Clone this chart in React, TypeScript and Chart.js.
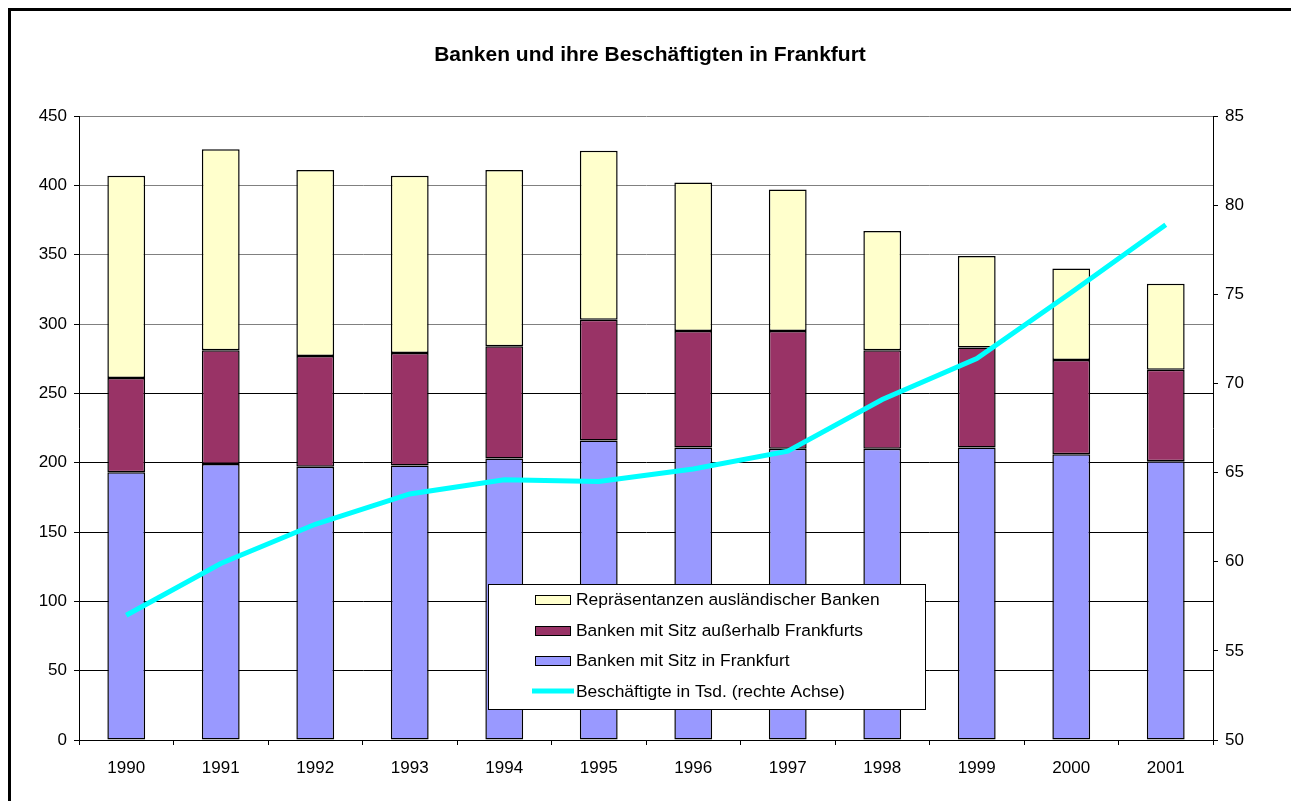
import React, { useEffect, useRef } from "react";
import { Chart, registerables } from "chart.js";

Chart.register(...registerables);

const TITLE = "Banken und ihre Beschäftigten in Frankfurt";
const YEARS = ["1990", "1991", "1992", "1993", "1994", "1995", "1996", "1997", "1998", "1999", "2000", "2001"];

const SITZ_FRANKFURT = [193, 199, 197, 198, 203, 216, 211, 210, 210, 211, 206, 201];
const SITZ_AUSSERHALB = [68, 82, 80, 81, 81, 87, 84, 85, 71, 72, 68, 66];
const REPRAESENTANZEN = [146, 145, 134, 128, 127, 122, 107, 102, 86, 66, 66, 62];
const BESCHAEFTIGTE = [57.0, 59.9, 62.1, 63.8, 64.6, 64.5, 65.2, 66.2, 69.1, 71.4, 75.1, 78.9];

const LABEL_FRANKFURT = "Banken mit Sitz in Frankfurt";
const LABEL_AUSSERHALB = "Banken mit Sitz außerhalb Frankfurts";
const LABEL_REPR = "Repräsentanzen ausländischer Banken";
const LABEL_BESCH = "Beschäftigte in Tsd. (rechte Achse)";

const C_BLUE = "#9999FF";
const C_MAROON = "#993366";
const C_YELLOW = "#FFFFCC";
const C_CYAN = "#00FFFF";
const FONT = '"Liberation Sans", Arial, sans-serif';

const legendPlugin = {
  id: "boxLegend",
  afterDraw(chart: any) {
    const ctx = chart.ctx as CanvasRenderingContext2D;
    const x0 = 488, y0 = 584, w = 437, h = 125;
    ctx.save();
    ctx.fillStyle = "#fff";
    ctx.fillRect(x0, y0, w, h);
    ctx.strokeStyle = "#000";
    ctx.lineWidth = 1;
    ctx.strokeRect(x0 + 0.5, y0 + 0.5, w, h);
    const items = [
      { label: LABEL_REPR, color: C_YELLOW, type: "box" },
      { label: LABEL_AUSSERHALB, color: C_MAROON, type: "box" },
      { label: LABEL_FRANKFURT, color: C_BLUE, type: "box" },
      { label: LABEL_BESCH, color: C_CYAN, type: "line" },
    ];
    const rows = [600, 631, 661, 692];
    ctx.font = `17.4px ${FONT}`;
    ctx.textBaseline = "middle";
    ctx.textAlign = "left";
    items.forEach((it, i) => {
      const cy = rows[i];
      if (it.type === "box") {
        ctx.fillStyle = it.color;
        ctx.fillRect(535, cy - 4.5, 36, 9);
        ctx.strokeStyle = "#000";
        ctx.lineWidth = 1;
        ctx.strokeRect(535.5, cy - 4.5, 35, 9);
      } else {
        ctx.strokeStyle = it.color;
        ctx.lineWidth = 5;
        ctx.beginPath();
        ctx.moveTo(532, cy - 1);
        ctx.lineTo(574, cy - 1);
        ctx.stroke();
      }
      ctx.fillStyle = "#000";
      ctx.fillText(it.label, 576, cy);
    });
    ctx.restore();
  },
};

export default function App() {
  const ref = useRef<HTMLCanvasElement>(null);

  useEffect(() => {
    if (!ref.current) return;
    const barCommon = {
      type: "bar" as const,
      borderColor: "#000",
      borderWidth: 1.5,
      borderSkipped: false,
      barPercentage: 0.4,
      categoryPercentage: 1.0,
      yAxisID: "y",
      order: 1,
    };
    const chart = new Chart(ref.current, {
      type: "bar",
      data: {
        labels: YEARS,
        datasets: [
          { ...barCommon, label: LABEL_FRANKFURT, data: SITZ_FRANKFURT, backgroundColor: C_BLUE },
          { ...barCommon, label: LABEL_AUSSERHALB, data: SITZ_AUSSERHALB, backgroundColor: C_MAROON },
          { ...barCommon, label: LABEL_REPR, data: REPRAESENTANZEN, backgroundColor: C_YELLOW },
          {
            type: "line",
            label: LABEL_BESCH,
            data: BESCHAEFTIGTE,
            borderColor: C_CYAN,
            backgroundColor: C_CYAN,
            borderWidth: 5,
            pointRadius: 0,
            tension: 0,
            yAxisID: "y1",
            order: 0,
          } as any,
        ],
      },
      options: {
        responsive: false,
        animation: false,
        layout: { padding: { top: 42.4, left: 9, right: 0, bottom: 0 } },
        plugins: {
          legend: { display: false },
          tooltip: { enabled: false },
          title: {
            display: true,
            text: TITLE,
            color: "#000",
            font: { family: FONT, size: 21, weight: "bold" },
            padding: { top: 0, bottom: 48.4 },
          },
        },
        scales: {
          x: {
            stacked: true,
            offset: true,
            grid: {
              display: true,
              offset: true,
              drawOnChartArea: false,
              tickLength: 5,
              color: "#000",
              tickColor: "#000",
            },
            border: { display: true, color: "#000", width: 1 },
            ticks: {
              color: "#000",
              font: { family: FONT, size: 17 },
              padding: 13,
              maxRotation: 0,
            },
            afterFit: (s: any) => {
              s.height = 61;
            },
          },
          y: {
            stacked: true,
            position: "left",
            min: 0,
            max: 450,
            ticks: {
              stepSize: 50,
              color: "#000",
              font: { family: FONT, size: 17 },
              padding: 7,
            },
            grid: {
              drawOnChartArea: true,
              tickLength: 5,
              tickColor: "#000",
              color: (c: any) => (c.tick && c.tick.value >= 300 ? "#808080" : "#000"),
              lineWidth: 1,
            },
            border: { display: true, color: "#000", width: 1 },
            afterFit: (s: any) => {
              s.width = 70;
            },
          },
          y1: {
            position: "right",
            min: 50,
            max: 85,
            ticks: {
              stepSize: 5,
              color: "#000",
              font: { family: FONT, size: 17 },
              padding: 7,
            },
            grid: {
              drawOnChartArea: false,
              tickLength: 5,
              tickColor: "#000",
              color: "#000",
            },
            border: { display: true, color: "#000", width: 1 },
            afterFit: (s: any) => {
              s.width = 78;
            },
          },
        },
      },
      plugins: [legendPlugin],
    });
    return () => chart.destroy();
  }, []);

  return (
    <>
      <div
        style={{
          position: "fixed",
          left: 8,
          top: 8,
          width: 1283,
          height: 793,
          boxSizing: "border-box",
          borderLeft: "3px solid #000",
          borderTop: "3px solid #000",
        }}
      />
      <canvas
        ref={ref}
        width={1291}
        height={801}
        style={{ position: "fixed", left: 0, top: 0, width: 1291, height: 801 }}
      />
    </>
  );
}
